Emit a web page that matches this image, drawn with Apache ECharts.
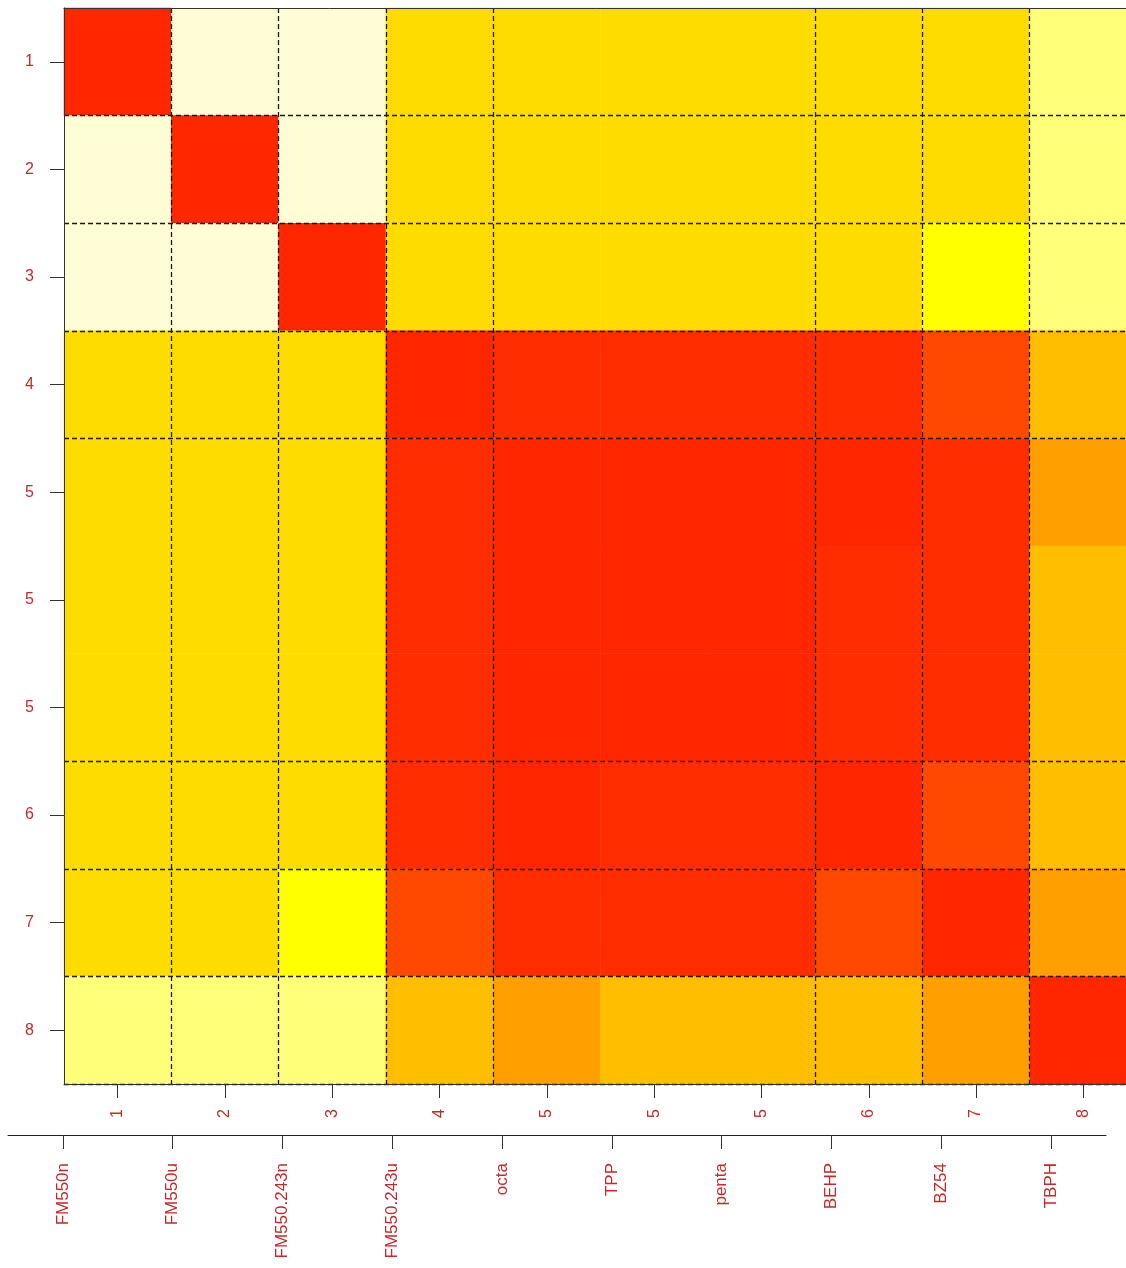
<!DOCTYPE html>
<html><head><meta charset="utf-8">
<script src="https://cdn.jsdelivr.net/npm/echarts@6/dist/echarts.min.js"></script>
<style>html,body{margin:0;padding:0;background:#fff}#c{width:1126px;height:1268px}</style>
</head><body><div id="c"></div>
<script>
// axis tick labels
const rowLabels = ['1','2','3','4','5','5','5','6','7','8'];
const colLabels = ['1','2','3','4','5','5','5','6','7','8'];
const sampleNames = ['FM550n','FM550u','FM550.243n','FM550.243u','octa','TPP','penta','BEHP','BZ54','TBPH'];
// colour level of each cell (0 = deepest red ... 8 = cream), rows top to bottom
const row1  = [0, 8, 8, 5, 5, 5, 5, 5, 5, 7];
const row2  = [8, 0, 8, 5, 5, 5, 5, 5, 5, 7];
const row3  = [8, 8, 0, 5, 5, 5, 5, 5, 6, 7];
const row4  = [5, 5, 5, 0, 1, 1, 1, 1, 2, 4];
const row5  = [5, 5, 5, 1, 0, 0, 0, 0, 1, 3];
const row6  = [5, 5, 5, 1, 0, 0, 0, 1, 1, 4];
const row7  = [5, 5, 5, 1, 0, 0, 0, 1, 1, 4];
const row8  = [5, 5, 5, 1, 0, 1, 1, 0, 2, 4];
const row9  = [5, 5, 6, 2, 1, 1, 1, 2, 0, 3];
const row10 = [7, 7, 7, 4, 3, 4, 4, 4, 3, 0];
const levelColors = ['#FF2600','#FF2D00','#FF4800','#FFA000','#FFBE00','#FFDC00','#FFFF00','#FFFF7A','#FFFDD5'];

const matrix = [row1,row2,row3,row4,row5,row6,row7,row8,row9,row10];
const data = [];
matrix.forEach((row, r) => row.forEach((v, c) => data.push([c, r, v])));
const idx = rowLabels.map((_, i) => String(i));
const isBreakRow = (i) => i > 0 && rowLabels[i] !== rowLabels[i - 1];
const isBreakCol = (i) => i > 0 && colLabels[i] !== colLabels[i - 1];

const RED = '#C82828';
const FONT = 'Liberation Sans, Arial, sans-serif';
const AX = '#333333';
const dash = { color: '#1a1a1a', width: 1.3, type: [5, 3] };

const chart = echarts.init(document.getElementById('c'), null, { renderer: 'canvas' });
chart.setOption({
  animation: false,
  backgroundColor: '#ffffff',
  grid: [
    { left: 64, top: 8, width: 1073, height: 1076, outerBoundsMode: 'none', containLabel: false },
    { left: 8, top: 1100, width: 1098, height: 35, outerBoundsMode: 'none', containLabel: false }
  ],
  xAxis: [
    { gridIndex: 0, type: 'category', data: idx, position: 'bottom', z: 10,
      axisLine: { show: true, lineStyle: { color: AX, width: 1 } },
      axisTick: { show: true, alignWithLabel: true, length: 14, lineStyle: { color: AX } },
      axisLabel: { rotate: 90, margin: 25, color: RED, fontSize: 16, fontFamily: FONT, interval: 0,
                   formatter: (v, i) => colLabels[i] },
      splitLine: { show: true, interval: isBreakCol, lineStyle: dash } },
    { gridIndex: 0, type: 'category', data: idx, position: 'top', z: 10,
      axisLine: { show: true, lineStyle: { color: AX, width: 1 } },
      axisTick: { show: false }, axisLabel: { show: false }, splitLine: { show: false } },
    { gridIndex: 1, type: 'category', data: sampleNames, position: 'bottom',
      axisLine: { show: true, lineStyle: { color: '#222', width: 1 } },
      axisTick: { show: true, alignWithLabel: true, length: 14, lineStyle: { color: AX } },
      axisLabel: { rotate: 90, margin: 28, color: RED, fontSize: 17, fontFamily: FONT, interval: 0 },
      splitLine: { show: false } }
  ],
  yAxis: [
    { gridIndex: 0, type: 'category', data: idx, inverse: true, z: 10,
      axisLine: { show: true, lineStyle: { color: AX, width: 1 } },
      axisTick: { show: true, alignWithLabel: true, length: 14, lineStyle: { color: AX } },
      axisLabel: { margin: 30, color: RED, fontSize: 16, fontFamily: FONT, interval: 0,
                   formatter: (v, i) => rowLabels[i] },
      splitLine: { show: true, interval: isBreakRow, lineStyle: dash } },
    { gridIndex: 1, type: 'value', show: false }
  ],
  visualMap: {
    type: 'piecewise', show: false, dimension: 2, seriesIndex: 0,
    pieces: levelColors.map((c, i) => ({ value: i, color: c }))
  },
  series: [{
    type: 'heatmap', xAxisIndex: 0, yAxisIndex: 0, data: data,
    itemStyle: { borderWidth: 0 }, emphasis: { disabled: true }, progressive: 0
  }]
});
</script></body></html>
